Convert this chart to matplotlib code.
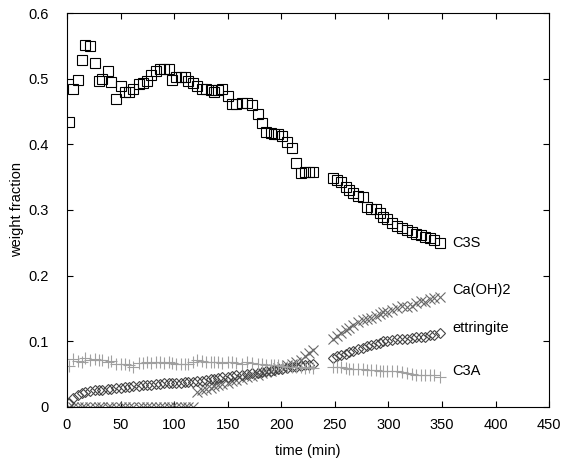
import matplotlib
matplotlib.use("Agg")
import matplotlib.pyplot as plt

plt.rcParams['font.family'] = ['Liberation Sans', 'DejaVu Sans']

# measurement times (min)
time = [2, 6, 10, 14, 17, 22, 26, 30, 33, 38,
        41, 46, 50, 54, 58, 62, 67, 71, 75, 78,
        83, 87, 91, 95, 98, 102, 106, 110, 113, 118,
        121, 126, 130, 134, 137, 141, 145, 150, 154, 158,
        163, 168, 173, 178, 182, 186, 190, 193, 197, 201,
        205, 210, 214, 218, 222, 226, 230,
        248, 252, 256, 260, 263, 267, 272, 276, 280, 284,
        288, 292, 295, 299, 303, 308, 313, 317, 322, 326,
        330, 334, 339, 343, 348]

c3s = [.434, .484, .498, .529, .551, .550, .524, .496, .499, .511,
       .495, .469, .489, .480, .480, .484, .492, .493, .496, .505,
       .512, .515, .515, .514, .498, .503, .503, .502, .496, .494,
       .489, .485, .484, .483, .479, .483, .485, .474, .461, .462,
       .463, .463, .460, .446, .432, .419, .417, .416, .415, .412,
       .404, .395, .371, .357, .358, .358, .358,
       .349, .346, .342, .335, .330, .326, .321, .320, .304, .302,
       .301, .295, .289, .286, .280, .276, .272, .270, .267, .263,
       .262, .259, .257, .254, .249]

caoh2 = [0, 0, 0, 0, 0, 0, 0, 0, 0, 0,
         0, 0, 0, 0, 0, 0, 0, 0, 0, 0,
         0, 0, 0, 0, 0, 0, 0, 0, 0, 0,
         .022, .025, .027, .029, .031, .033, .035, .037, .039, .041,
         .043, .045, .047, .049, .051, .053, .055, .057, .059, .061,
         .063, .066, .069, .072, .077, .082, .087,
         .104, .108, .113, .117, .120, .125, .130, .132, .134, .136,
         .138, .141, .144, .145, .148, .151, .153, .152, .154, .158,
         .162, .160, .164, .166, .168]

ettringite = [.006, .014, .018, .021, .023, .024, .025, .025, .026, .027,
              .027, .028, .029, .030, .030, .031, .032, .033, .033, .034,
              .035, .035, .036, .036, .037, .037, .037, .038, .038, .038,
              .039, .040, .041, .042, .043, .044, .045, .046, .047, .048,
              .049, .050, .051, .052, .053, .054, .055, .056, .057, .058,
              .059, .060, .061, .062, .063, .064, .066,
              .074, .077, .079, .081, .083, .085, .088, .090, .092, .094,
              .096, .098, .100, .101, .102, .103, .104, .104, .105, .106,
              .106, .107, .109, .110, .112]

c3a = [.062, .073, .070, .069, .075, .072, .073, .071, .072, .069,
       .070, .066, .066, .065, .063, .061, .067, .067, .068, .067,
       .068, .068, .067, .068, .067, .066, .065, .065, .066, .069,
       .071, .070, .069, .068, .069, .068, .067, .069, .068, .067,
       .066, .068, .067, .066, .065, .064, .064, .063, .063, .062,
       .061, .061, .060, .060, .059, .060, .059,
       .061, .060, .060, .059, .058, .058, .057, .057, .056, .056,
       .056, .055, .055, .055, .054, .054, .053, .052, .050, .049,
       .049, .048, .048, .048, .046]

names = ["C3S", "Ca(OH)2", "ettringite", "C3A"]
label_y = [0.25, 0.178, 0.12, 0.054]

fs = 10.5
fig = plt.figure(figsize=(5.72, 4.66), dpi=100)
ax = fig.add_axes([0.117, 0.127, 0.843, 0.845])

ax.plot(time, c3s, ls='none', marker='s', ms=6.8, mfc='none', mec='black', mew=0.8)
ax.plot(time, caoh2, ls='none', marker='x', ms=7, mec='#6a6a6a', mew=0.8)
ax.plot(time, ettringite, ls='none', marker='D', ms=4.8, mfc='none', mec='#444444', mew=0.8)
ax.plot(time, c3a, ls='none', marker='+', ms=8, mec='#a0a0a0', mew=0.8)

for n, yv in zip(names, label_y):
    ax.text(360, yv, n, fontsize=fs, va='center', ha='left')

ax.set_xlim(0, 450)
ax.set_ylim(0, 0.6)
ax.set_xticks(range(0, 451, 50))
ax.set_yticks([0, 0.1, 0.2, 0.3, 0.4, 0.5, 0.6])
ax.set_yticklabels(['0', '0.1', '0.2', '0.3', '0.4', '0.5', '0.6'])
ax.tick_params(axis='x', direction='in', top=True, length=4, labelsize=fs, pad=8)
ax.tick_params(axis='y', direction='in', right=True, length=4, labelsize=fs, pad=13)
ax.set_xlabel('time (min)', fontsize=fs)
ax.set_ylabel('weight fraction', fontsize=fs)
ax.xaxis.set_label_coords(0.5, -0.094)
ax.yaxis.set_label_coords(-0.089, 0.5)
for s in ax.spines.values():
    s.set_linewidth(0.8)

plt.savefig("out.png", dpi=100)
plt.close()
